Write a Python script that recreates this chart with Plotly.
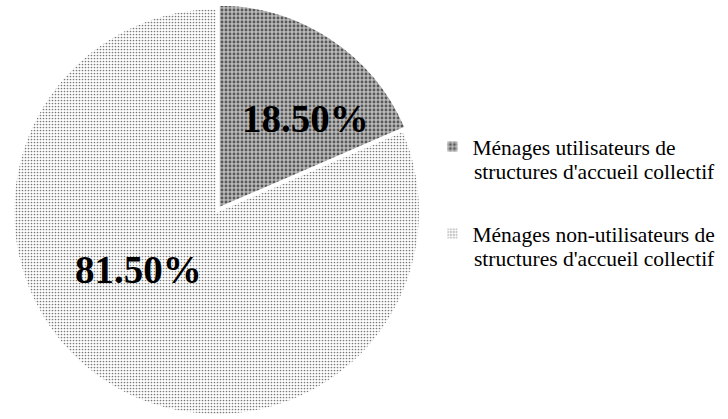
import plotly.graph_objects as go

# Household share using collective childcare structures
labels = [
    "Ménages utilisateurs de",
    "Ménages non-utilisateurs de",
]
second_lines = [
    "structures d'accueil collectif",
    "structures d'accueil collectif",
]
values = [18.5, 81.5]
text_labels = ["18.50%", "81.50%"]
# slice label centres in paper coordinates
label_x = [0.419, 0.190]
label_y = [0.717, 0.356]
# vertical centres of the second legend line of each entry
second_line_y = [0.5895, 0.381]

SERIF = "Liberation Serif, Times New Roman, serif"
LEGEND_SIZE = 21.5

fig = go.Figure(
    go.Pie(
        # legend text: first line plus two spacing lines
        labels=[f"{lab}<br> <br> " for lab in labels],
        values=values,
        textinfo="none",
        hoverinfo="percent",
        sort=False,
        direction="clockwise",
        rotation=0,
        pull=[0.02, 0],
        marker=dict(
            colors=["#9a9a9a", "#ffffff"],
            line=dict(color="#ffffff", width=2),
            pattern=dict(
                shape=[".", "."],
                fgcolor=["#585858", "#7a7a7a"],
                bgcolor=["#bababa", "#ffffff"],
                size=[4, 3],
                solidity=[0.4, 0.25],
            ),
        ),
        domain=dict(x=[0.0, 0.595], y=[0.0, 0.99]),
        showlegend=True,
    )
)

for txt, lx, ly in zip(text_labels, label_x, label_y):
    fig.add_annotation(
        x=lx, y=ly, xref="paper", yref="paper",
        text=f"<b>{txt}</b>", showarrow=False,
        xanchor="center", yanchor="middle",
        font=dict(family=SERIF, size=39, color="#000000"),
    )

for txt, ly in zip(second_lines, second_line_y):
    fig.add_annotation(
        x=0.6484, y=ly, xref="paper", yref="paper",
        text=txt, showarrow=False,
        xanchor="left", yanchor="middle",
        font=dict(family=SERIF, size=LEGEND_SIZE, color="#000000"),
    )

fig.update_layout(
    width=728,
    height=419,
    margin=dict(l=0, r=0, t=0, b=0),
    paper_bgcolor="#ffffff",
    plot_bgcolor="#ffffff",
    font=dict(family=SERIF, size=LEGEND_SIZE, color="#000000"),
    legend=dict(
        x=0.594,
        y=0.699,
        xanchor="left",
        yanchor="top",
        valign="top",
        font=dict(family=SERIF, size=LEGEND_SIZE, color="#000000"),
        itemwidth=30,
    ),
)

fig.write_html("out.html")
